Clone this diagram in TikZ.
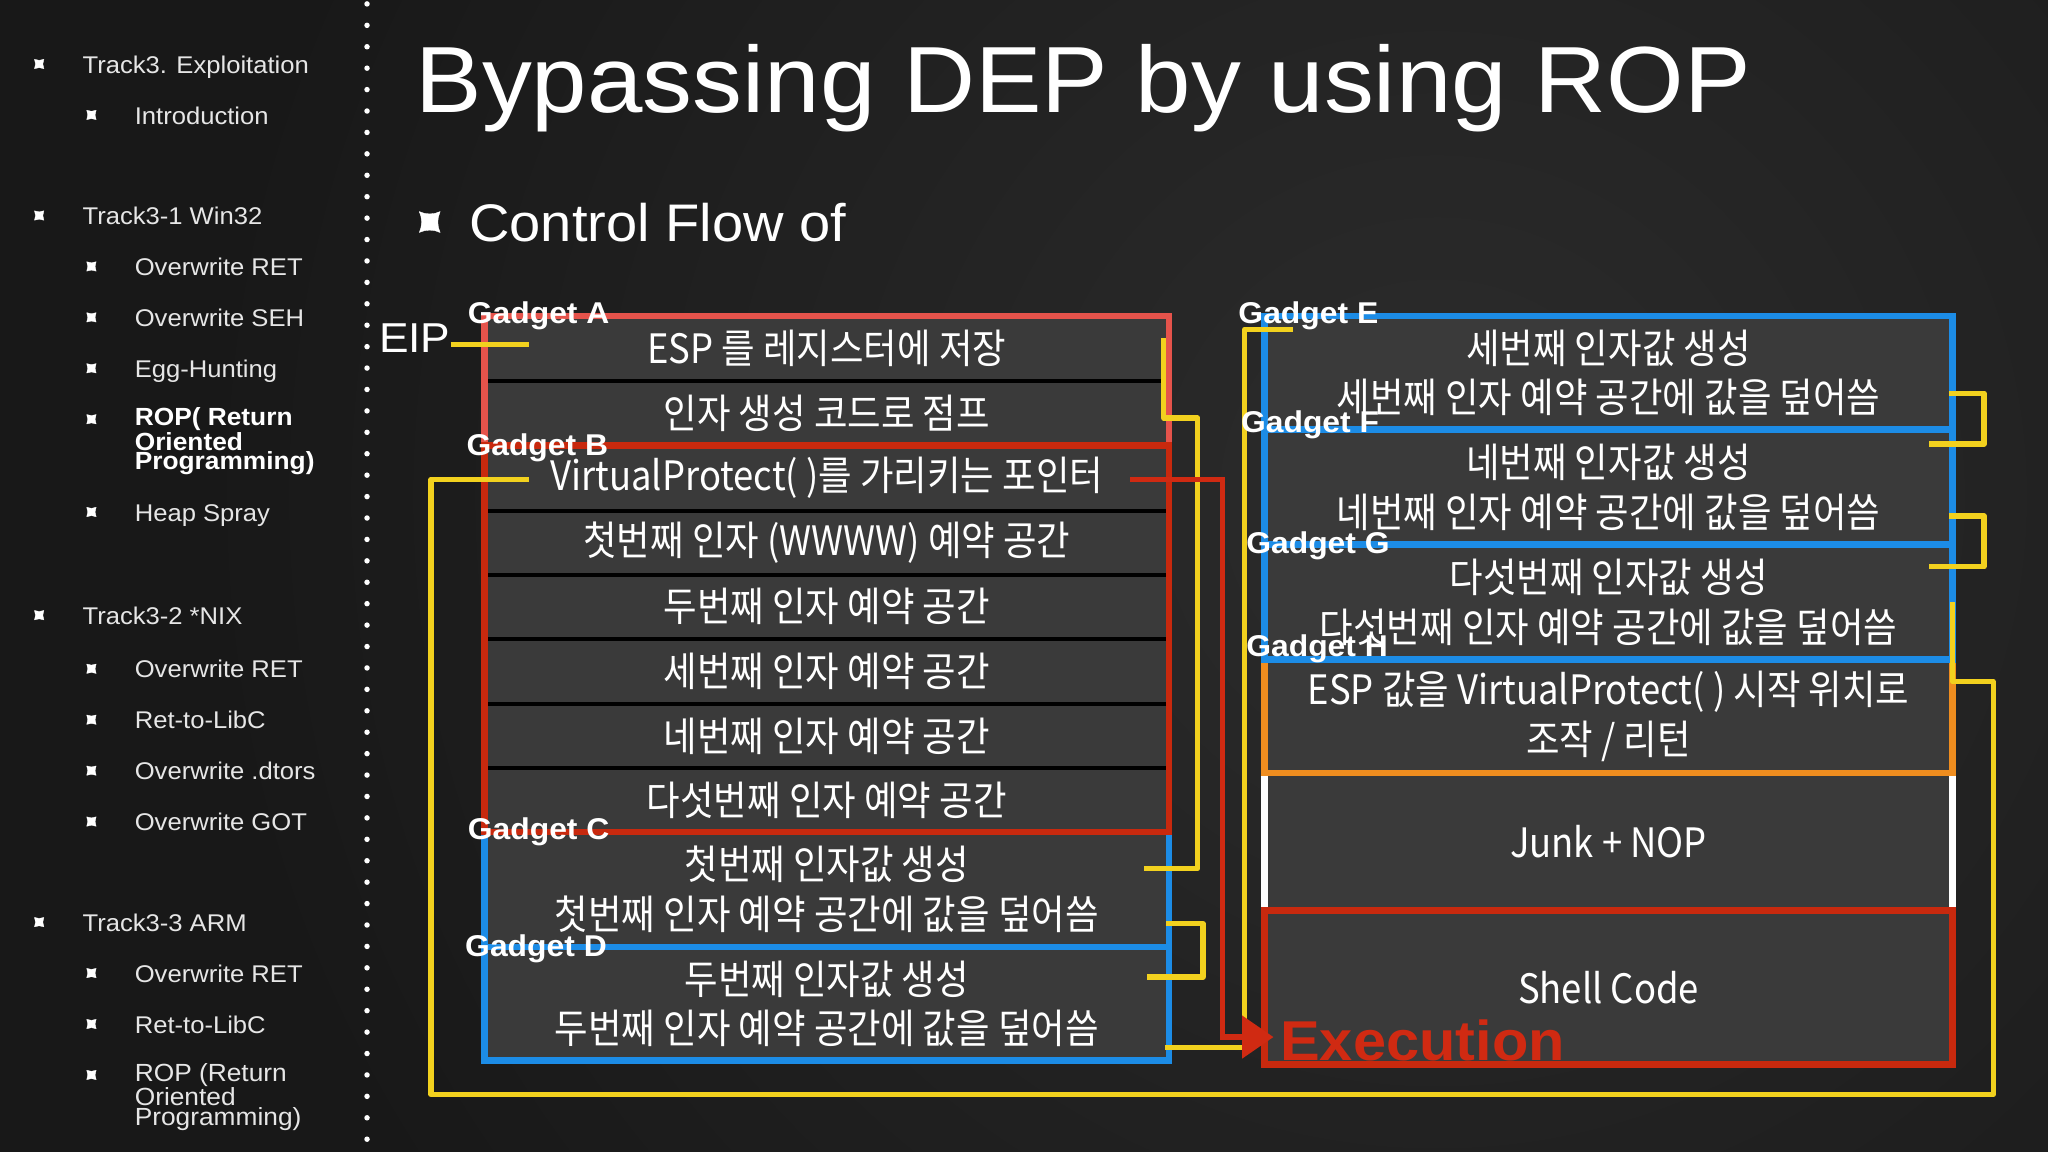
\documentclass[tikz,border=0pt]{standalone}
\usepackage{fontspec}
\setmainfont{Liberation Sans}
\newfontfamily\hfont{Liberation Sans}[FakeStretch=1.06]
\newfontfamily\kr{Noto Sans CJK KR}[FakeStretch=0.9]
\usetikzlibrary{arrows.meta}
\definecolor{bgdark}{HTML}{181818}
\definecolor{bglight}{HTML}{2C2C2C}
\definecolor{cellgrey}{HTML}{3A3A3A}
\definecolor{salmon}{HTML}{E5534B}
\definecolor{darkred}{HTML}{C8290E}
\definecolor{gblue}{HTML}{1C8CE6}
\definecolor{gorange}{HTML}{EF8D1F}
\definecolor{chalk}{HTML}{F2D11E}
\definecolor{exred}{HTML}{D02A12}
\definecolor{sidetext}{HTML}{E6E6E6}
\tikzset{
  xbul/.pic={\fill[white,draw=white,line width=0.25,line join=round]
    (-1,-1) .. controls (-0.35,-0.7) and (0.35,-0.7) .. (1,-1)
    .. controls (0.7,-0.35) and (0.7,0.35) .. (1,1)
    .. controls (0.35,0.7) and (-0.35,0.7) .. (-1,1)
    .. controls (-0.7,0.35) and (-0.7,-0.35) .. (-1,-1) -- cycle;},
  side1/.style={anchor=base west, inner sep=0, text=sidetext, font=\hfont\fontsize{18.5}{22}\selectfont},
  cell/.style={fill=cellgrey, draw=black, line width=3pt, inner sep=0, outer sep=0,
    text=white, align=center, font=\kr\fontsize{31}{38}\selectfont},
  cellL/.style={cell, minimum width=524pt},
  cellR/.style={cell, minimum width=527pt},
  gbox/.style={line width=5pt, line join=miter},
  glabel/.style={anchor=base west, inner sep=0, text=white, font=\hfont\bfseries\fontsize{23}{26}\selectfont},
  yel/.style={draw=chalk, line width=4pt, line join=round},
  redarrow/.style={draw=exred, line width=4pt, -{Triangle[length=24pt,width=32pt]}}
}
\begin{document}
\begin{tikzpicture}[x=1pt,y=-1pt]
\useasboundingbox (0,0) rectangle (1568,882);
% background
\fill[bgdark] (0,0) rectangle (1568,882);
\begin{scope}
  \clip (0,0) rectangle (1568,882);
  \shade[inner color=bglight, outer color=bgdark] (1100,380) circle (950);
\end{scope}

% dotted separator
\foreach \i in {0,...,53} \fill[white] (281,{3+\i*16.4}) circle (2.1);

% sidebar
\pic[scale=3.6] at (30,49) {xbul};
\node[side1] (s1) at (63,56) {Track3. Exploitation};
\pic[scale=3.6] at (70,88) {xbul};
\node[side1] (s2) at (103,95) {Introduction};
\pic[scale=3.6] at (30,165) {xbul};
\node[side1] (s3) at (63,172) {Track3-1 Win32};
\pic[scale=3.6] at (70,204) {xbul};
\node[side1] (s4) at (103,211) {Overwrite RET};
\pic[scale=3.6] at (70,243) {xbul};
\node[side1] (s5) at (103,250) {Overwrite SEH};
\pic[scale=3.6] at (70,282) {xbul};
\node[side1] (s6) at (103,289) {Egg-Hunting};
\pic[scale=3.6] at (70,321) {xbul};
\node[anchor=north west, inner sep=0, align=left, text=white,
  font=\hfont\bfseries\fontsize{19}{15}\selectfont] (s7) at (103,312) {ROP( Return\\Oriented\\Programming)};
\pic[scale=3.6] at (70,392) {xbul};
\node[side1] (s8) at (103,399) {Heap Spray};
\pic[scale=3.6] at (30,471) {xbul};
\node[side1] (s9) at (63,478) {Track3-2 *NIX};
\pic[scale=3.6] at (70,512) {xbul};
\node[side1] (s10) at (103,519) {Overwrite RET};
\pic[scale=3.6] at (70,551) {xbul};
\node[side1] (s11) at (103,558) {Ret-to-LibC};
\pic[scale=3.6] at (70,590) {xbul};
\node[side1] (s12) at (103,597) {Overwrite .dtors};
\pic[scale=3.6] at (70,629) {xbul};
\node[side1] (s13) at (103,636) {Overwrite GOT};
\pic[scale=3.6] at (30,706) {xbul};
\node[side1] (s14) at (63,713) {Track3-3 ARM};
\pic[scale=3.6] at (70,745) {xbul};
\node[side1] (s15) at (103,752) {Overwrite RET};
\pic[scale=3.6] at (70,784) {xbul};
\node[side1] (s16) at (103,791) {Ret-to-LibC};
\pic[scale=3.6] at (70,823) {xbul};
\node[anchor=north west, inner sep=0, align=left, text=sidetext,
  font=\hfont\fontsize{19}{15}\selectfont] (s17) at (103,814) {ROP (Return\\Oriented\\Programming)};

% title
\node[anchor=base west, inner sep=0, text=white, font=\hfont\fontsize{72}{86}\selectfont] (title) at (318,86) {Bypassing DEP by using ROP};
\pic[scale=8] at (329,170) {xbul};
\node[anchor=base west, inner sep=0, text=white, font=\hfont\fontsize{40.5}{48}\selectfont] (sub) at (359,185) {Control Flow of};

% left column cells
\node[cellL, minimum height=50pt] (rA1) at (633,267) {ESP 를 레지스터에 저장};
\node[cellL, minimum height=49pt] (rA2) at (633,316.5) {인자 생성 코드로 점프};
\node[cellL, minimum height=50pt] (rB1) at (633,366) {VirtualProtect( )를 가리키는 포인터};
\node[cellL, minimum height=49pt] (rB2) at (633,415.5) {첫번째 인자 (WWWW) 예약 공간};
\node[cellL, minimum height=49pt] (rB3) at (633,464.5) {두번째 인자 예약 공간};
\node[cellL, minimum height=50pt] (rB4) at (633,514) {세번째 인자 예약 공간};
\node[cellL, minimum height=49pt] (rB5) at (633,563.5) {네번째 인자 예약 공간};
\node[cellL, minimum height=49pt] (rB6) at (633,612.5) {다섯번째 인자 예약 공간};
\node[cellL, minimum height=88pt] (rC) at (633,681) {첫번째 인자값 생성\\첫번째 인자 예약 공간에 값을 덮어씀};
\node[cellL, minimum height=87pt] (rD) at (633,768.5) {두번째 인자값 생성\\두번째 인자 예약 공간에 값을 덮어씀};

% right column cells
\node[cellR, minimum height=87pt] (rE) at (1231.5,285.5) {세번째 인자값 생성\\세번째 인자 예약 공간에 값을 덮어씀};
\node[cellR, minimum height=88pt] (rF) at (1231.5,373) {네번째 인자값 생성\\네번째 인자 예약 공간에 값을 덮어씀};
\node[cellR, minimum height=88pt] (rG) at (1231.5,461) {다섯번째 인자값 생성\\다섯번째 인자 예약 공간에 값을 덮어씀};
\node[cellR, minimum height=87pt] (rH) at (1231.5,548.5) {ESP 값을 VirtualProtect( ) 시작 위치로\\조작 / 리턴};
\node[cellR, minimum height=105pt] (rJ) at (1231.5,644.5) {Junk + NOP};
\node[cellR, minimum height=118pt] (rS) at (1231.5,756) {Shell Code};

% gadget borders (order sets which colour wins on shared edges)
\draw[gbox, salmon] (rA1.north west) rectangle (rA2.south east);
\draw[gbox, gblue] (rC.north west) rectangle (rC.south east);
\draw[gbox, gblue] (rD.north west) rectangle (rD.south east);
\draw[gbox, darkred] (rB1.north west) rectangle (rB6.south east);
\draw[gbox, white] (rJ.north west) rectangle (rJ.south east);
\draw[gbox, gorange] (rH.north west) rectangle (rH.south east);
\draw[gbox, gblue] (rE.north west) rectangle (rE.south east);
\draw[gbox, gblue] (rF.north west) rectangle (rF.south east);
\draw[gbox, gblue] (rG.north west) rectangle (rG.south east);
\draw[gbox, darkred] (rS.north west) rectangle (rS.south east);

% EIP
\node[anchor=base west, inner sep=0, text=white, font=\hfont\fontsize{32}{38}\selectfont] (EIP) at (290,270) {EIP};

% connector waypoints
\coordinate (eipEnd) at (405,264);
\coordinate (a1) at (891,259);
\coordinate (a2) at (891,320);
\coordinate (a3) at (917,320);
\coordinate (a4) at (917,665);
\coordinate (a5) at (876,665);
\coordinate (c1) at (893,707);
\coordinate (c2) at (921,707);
\coordinate (c3) at (921,748);
\coordinate (c4) at (878,748);
\coordinate (d1) at (892,802);
\coordinate (d2) at (953,802);
\coordinate (d3) at (953,252);
\coordinate (d4) at (990,252);
\coordinate (e1) at (1492,301);
\coordinate (e2) at (1519,301);
\coordinate (e3) at (1519,340);
\coordinate (e4) at (1477,340);
\coordinate (f1) at (1492,395);
\coordinate (f2) at (1519,395);
\coordinate (f3) at (1519,434);
\coordinate (f4) at (1477,434);
\coordinate (g1) at (1495,461);
\coordinate (g2) at (1495,522);
\coordinate (g3) at (1526,522);
\coordinate (g4) at (1526,838);
\coordinate (g5) at (330,838);
\coordinate (g6) at (330,367);
\coordinate (g7) at (405,367);
\coordinate (p1) at (865,367);
\coordinate (p2) at (936,367);
\coordinate (p3) at (936,794);
\coordinate (p4) at (975,794);

% yellow control-flow connectors
\draw[yel] (EIP.east |- eipEnd) -- (eipEnd);
\draw[yel] (a1) -- (a2) -- (a3) -- (a4) -- (a5);
\draw[yel] (c1) -- (c2) -- (c3) -- (c4);
\draw[yel] (d1) -- (d2) -- (d3) -- (d4);
\draw[yel] (e1) -- (e2) -- (e3) -- (e4);
\draw[yel] (f1) -- (f2) -- (f3) -- (f4);
\draw[yel] (g1) -- (g2) -- (g3) -- (g4) -- (g5) -- (g6) -- (g7);

% red pointer to execution
\draw[redarrow] (p1) -- (p2) -- (p3) -- (p4);

% gadget labels
\node[glabel] (gA) at (358,247.5) {Gadget A};
\node[glabel] (gB) at (357,348.5) {Gadget B};
\node[glabel] (gC) at (358,642.5) {Gadget C};
\node[glabel] (gD) at (356,732.5) {Gadget D};
\node[glabel] (gE) at (948,247.5) {Gadget E};
\node[glabel] (gF) at (950,331.5) {Gadget F};
\node[glabel] (gG) at (954,423.5) {Gadget G};
\node[glabel] (gH) at (954,502.5) {Gadget H};

% execution label
\node[anchor=base west, inner sep=0, text=exred, font=\hfont\bfseries\fontsize{43}{50}\selectfont] (exec) at (980,812) {Execution};
\end{tikzpicture}
\end{document}
